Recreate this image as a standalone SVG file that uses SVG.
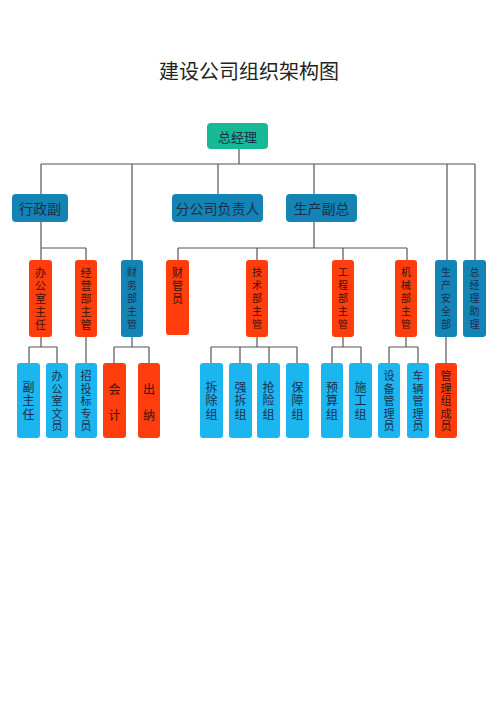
<svg xmlns="http://www.w3.org/2000/svg" width="500" height="707" viewBox="0 0 500 707">
<style>
text{font-family:"Noto Sans CJK SC","Noto Sans",sans-serif;text-anchor:middle;dominant-baseline:central}
.v{writing-mode:vertical-rl}
.title{font-size:20px;fill:#222}
.conn{fill:none;stroke:#555;stroke-width:1.2}
.teal{fill:#17b994}
.blue{fill:#1384b4}
.red{fill:#ff3d0d}
.lb{fill:#1bb5ef}
.tb{fill:#1b2f4d}
.tr{fill:#3d1206}
.l2{font-size:14px}
.l3{font-size:11px;letter-spacing:2px}
.l3s{font-size:10px;letter-spacing:3px}
.l4{font-size:11px;letter-spacing:1.5px}
.l4b{font-size:12px;letter-spacing:1.5px}
.l4c{font-size:12px}
</style>
<rect width="500" height="707" fill="#fff"/>
<text class="title" x="249" y="70">建设公司组织架构图</text>
<g id="connectors" class="conn">
<path d="M239 149V164M41 164H475M41 164V194M132 164V260M218 164V194M314 164V194M447 164V260M475 164V260"/>
<path d="M41 222V248M41 248H86M41 248V260M86 248V260"/>
<path d="M314 222V248M178 248H407M178 248V260M257 248V260M343 248V260M407 248V260"/>
<path d="M41 337V347M29 347H57M29 347V363M57 347V363"/>
<path d="M86 337V363"/>
<path d="M132 337V347M114 347H149M114 347V363M149 347V363"/>
<path d="M257 337V347M211 347H297M211 347V363M240 347V363M269 347V363M297 347V363"/>
<path d="M343 337V347M332 347H361M332 347V363M361 347V363"/>
<path d="M406 337V347M389 347H418M389 347V363M418 347V363"/>
<path d="M446 337V363"/>
</g>
<g id="n-zjl"><rect class="teal" x="207" y="123" width="61" height="26" rx="4"/><text class="tb" x="237.5" y="136" style="font-size:13px">总经理</text></g>
<g id="n-xzf"><rect class="blue" x="12" y="194" width="56" height="28" rx="4"/><text class="tb l2" x="40" y="208">行政副</text></g>
<g id="n-fgs"><rect class="blue" x="172" y="194" width="91" height="28" rx="4"/><text class="tb l2" x="217.5" y="208">分公司负责人</text></g>
<g id="n-scfz"><rect class="blue" x="286" y="194" width="71" height="28" rx="4"/><text class="tb l2" x="321.5" y="208">生产副总</text></g>

<g id="n-bgszr"><rect class="red" x="29" y="260" width="23" height="77" rx="3"/><text class="v tr l3" x="40.5" y="299.5">办公室主任</text></g>
<g id="n-jybzg"><rect class="red" x="75" y="260" width="22" height="77" rx="3"/><text class="v tr l3" x="86" y="299.5">经营部主管</text></g>
<g id="n-cwbzg"><rect class="blue" x="121" y="260" width="22" height="77" rx="3"/><text class="v tb l3s" x="132" y="300">财务部主管</text></g>
<g id="n-cgy"><rect class="red" x="166" y="260" width="23" height="75" rx="3"/><text class="v tr l3" x="177.5" y="287">财管员</text></g>
<g id="n-jsbzg"><rect class="red" x="246" y="260" width="22" height="77" rx="3"/><text class="v tr l3s" x="257" y="300">技术部主管</text></g>
<g id="n-gcbzg"><rect class="red" x="332" y="260" width="22" height="77" rx="3"/><text class="v tr l3s" x="343" y="300">工程部主管</text></g>
<g id="n-jxbzg"><rect class="red" x="395" y="260" width="22" height="77" rx="3"/><text class="v tr l3s" x="406" y="300">机械部主管</text></g>
<g id="n-scaqb"><rect class="blue" x="435" y="260" width="22" height="77" rx="3"/><text class="v tb l3s" x="446" y="300">生产安全部</text></g>
<g id="n-zjlzl"><rect class="blue" x="463" y="260" width="23" height="77" rx="3"/><text class="v tb l3s" x="474.5" y="300">总经理助理</text></g>

<g id="n-fzr"><rect class="lb" x="17" y="363" width="23" height="75" rx="3"/><text class="v tb l4b" x="28.5" y="401.7">副主任</text></g>
<g id="n-bgswy"><rect class="lb" x="46" y="363" width="22" height="75" rx="3"/><text class="v tb l4" x="57" y="401.7">办公室文员</text></g>
<g id="n-ztbzy"><rect class="lb" x="75" y="363" width="22" height="75" rx="3"/><text class="v tb l4" x="86" y="401.7">招投标专员</text></g>
<g id="n-kj"><rect class="red" x="103" y="363" width="23" height="75" rx="3"/><text class="tr l4c" x="114.5" y="388">会</text><text class="tr l4c" x="114.5" y="414">计</text></g>
<g id="n-cn"><rect class="red" x="138" y="363" width="22" height="75" rx="3"/><text class="tr l4c" x="149" y="388">出</text><text class="tr l4c" x="149" y="414">纳</text></g>
<g id="n-ccz"><rect class="lb" x="200" y="363" width="23" height="75" rx="3"/><text class="v tb l4b" x="211.5" y="401.7">拆除组</text></g>
<g id="n-qcz"><rect class="lb" x="229" y="363" width="23" height="75" rx="3"/><text class="v tb l4b" x="240.5" y="401.7">强拆组</text></g>
<g id="n-qxz"><rect class="lb" x="257" y="363" width="23" height="75" rx="3"/><text class="v tb l4b" x="268.5" y="401.7">抢险组</text></g>
<g id="n-bzz"><rect class="lb" x="286" y="363" width="23" height="75" rx="3"/><text class="v tb l4b" x="297.5" y="401.7">保障组</text></g>
<g id="n-ysz"><rect class="lb" x="321" y="363" width="22" height="75" rx="3"/><text class="v tb l4b" x="332" y="401.7">预算组</text></g>
<g id="n-sgz"><rect class="lb" x="349" y="363" width="23" height="75" rx="3"/><text class="v tb l4b" x="360.5" y="401.7">施工组</text></g>
<g id="n-sbgly"><rect class="lb" x="378" y="363" width="22" height="75" rx="3"/><text class="v tb l4" x="389" y="401.7">设备管理员</text></g>
<g id="n-clgly"><rect class="lb" x="407" y="363" width="22" height="75" rx="3"/><text class="v tb l4" x="418" y="401.7">车辆管理员</text></g>
<g id="n-glzcy"><rect class="red" x="435" y="363" width="22" height="75" rx="3"/><text class="v tr l4" x="446" y="401.7">管理组成员</text></g>
</svg>
